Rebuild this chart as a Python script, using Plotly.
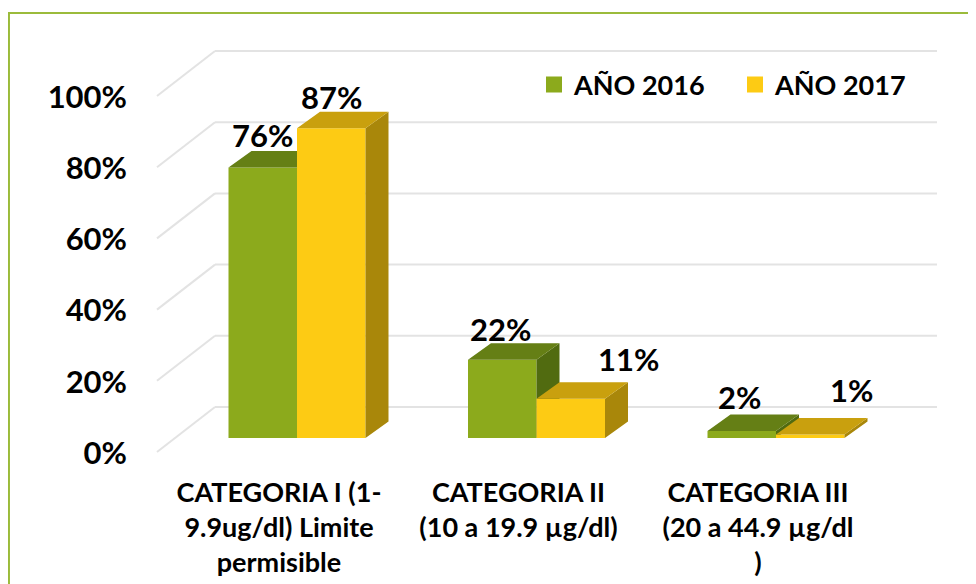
import plotly.graph_objects as go

# ---------------- data ----------------
categories = [
    "CATEGORIA I (1-<br>9.9ug/dl) Limite<br>permisible",
    "CATEGORIA II<br>(10 a 19.9 µg/dl)",
    "CATEGORIA III<br>(20 a 44.9 µg/dl<br>)",
]
series_names = ["AÑO 2016", "AÑO 2017"]
values_2016 = [76, 22, 2]
values_2017 = [87, 11, 1]
y_ticks = [0, 20, 40, 60, 80, 100]
y_tick_labels = ["0%", "20%", "40%", "60%", "80%", "100%"]

# ---------------- style / geometry ----------------
W, H = 976, 584
OFF = 8                       # default page body margin in the browser
WF, HF = W - OFF, H - OFF     # figure size
X0_PX, X_STEP = 297.0, 239.5  # ref pixel of category 0 (front centre), px per category
Y0_PX, Y_SCALE = 438.0, 3.56  # ref pixel of 0 % on bar front plane, px per %

def px_x(px):  # reference pixel -> x data
    return (px - X0_PX) / X_STEP

def dx_px(d):
    return d / X_STEP

def dy_px(d):
    return d / Y_SCALE

def paper_x(px):
    return (px - OFF) / WF

def paper_y(py):
    return 1 - (py - OFF) / HF

BAR_W = dx_px(68.5)
DEPTH_X, DEPTH_Y = dx_px(23), dy_px(16.5)
WALL_BACK_Y = dy_px(31)       # back wall offset above bar front plane
FRONT_Y = -dy_px(15)          # front floor edge offset
SIDE_X0, WALL_X0, WALL_X1 = px_x(157), px_x(215), px_x(937)
LABEL_SHIFT_X = -dx_px(18)

FONT = "Lato, 'Open Sans', sans-serif"
GRID = "#E3E3E3"
COLORS = {
    "AÑO 2016": dict(front="#8CAA1C", top="#657F15", side="#516B10"),
    "AÑO 2017": dict(front="#FDCB14", top="#C9A00E", side="#A9870A"),
}
# label offsets (px) relative to bar front-top centre
LABEL_OFF = {
    "AÑO 2016": [(0, 30), (-2, 29), (-2, 32)],
    "AÑO 2017": [(0, 29), (58, 38), (41, 42)],
}

xr = [px_x(OFF), px_x(W)]
yr = [(Y0_PX - H) / Y_SCALE, (Y0_PX - OFF) / Y_SCALE]

fig = go.Figure()

def add_series(name, vals, offset, xa, ya):
    c = COLORS[name]
    xs = list(range(len(vals)))
    fig.add_trace(go.Bar(x=xs, y=vals, width=BAR_W, offset=offset, base=0,
                         marker=dict(color=c["front"], line=dict(width=0)),
                         showlegend=False, hoverinfo="skip", xaxis=xa, yaxis=ya))
    tx, ty, sx, sy = [], [], [], []
    for i, v in zip(xs, vals):
        x0 = i + offset
        x1 = x0 + BAR_W
        tx += [x0, x1, x1 + DEPTH_X, x0 + DEPTH_X, x0, None]
        ty += [v, v, v + DEPTH_Y, v + DEPTH_Y, v, None]
        sx += [x1, x1, x1 + DEPTH_X, x1 + DEPTH_X, x1, None]
        sy += [0, v, v + DEPTH_Y, DEPTH_Y, 0, None]
    fig.add_trace(go.Scatter(x=sx, y=sy, mode="lines", fill="toself", fillcolor=c["side"],
                             line=dict(width=0), showlegend=False, hoverinfo="skip",
                             xaxis=xa, yaxis=ya))
    fig.add_trace(go.Scatter(x=tx, y=ty, mode="lines", fill="toself", fillcolor=c["top"],
                             line=dict(width=0), showlegend=False, hoverinfo="skip",
                             xaxis=xa, yaxis=ya))
    # legend entry
    fig.add_trace(go.Scatter(x=[None], y=[None], mode="markers", name=name,
                             marker=dict(symbol="square", size=17, color=c["front"]),
                             xaxis=xa, yaxis=ya))
    for i, v in zip(xs, vals):
        ox, oy = LABEL_OFF[name][i]
        fig.add_annotation(x=i + offset + BAR_W / 2, y=v, xref="x", yref="y",
                           text=f"{v}%", showarrow=False, xshift=ox, yshift=oy + 2,
                           font=dict(family=FONT, size=31, color="black", weight="bold"),
                           xanchor="center", yanchor="middle")

add_series(series_names[0], values_2016, -BAR_W, "x", "y")
add_series(series_names[1], values_2017, 0.0, "x2", "y2")

# gridlines (back wall + side wall)
for v in y_ticks:
    fig.add_shape(type="line", xref="x", yref="y", layer="below",
                  x0=WALL_X0, x1=WALL_X1, y0=v + WALL_BACK_Y, y1=v + WALL_BACK_Y,
                  line=dict(color=GRID, width=2))
    fig.add_shape(type="line", xref="x", yref="y", layer="below",
                  x0=SIDE_X0, x1=WALL_X0, y0=v - dy_px(14), y1=v + WALL_BACK_Y,
                  line=dict(color=GRID, width=2))

# outer green frame
fig.add_shape(type="rect", xref="paper", yref="paper",
              x0=paper_x(8) + 0.001, x1=1.02, y0=-0.02, y1=paper_y(13),
              line=dict(color="#9BBB3B", width=2), fillcolor="rgba(0,0,0,0)")

fig.update_layout(
    width=WF, height=HF, margin=dict(l=0, r=0, t=0, b=0),
    paper_bgcolor="white", plot_bgcolor="white",
    barmode="overlay",
    font=dict(family=FONT, color="black"),
    showlegend=True,
    legend=dict(orientation="h", x=paper_x(534), xanchor="left", y=paper_y(85), yanchor="middle",
                bgcolor="rgba(0,0,0,0)", entrywidth=156, entrywidthmode="pixels",
                font=dict(family=FONT, size=27, color="black", weight="bold"),
                traceorder="normal"),
    xaxis=dict(range=xr, domain=[0, 1], anchor="free", position=paper_y(474),
               tickvals=[i + LABEL_SHIFT_X for i in range(len(categories))],
               ticktext=categories, showgrid=False, zeroline=False, showline=False,
               ticks="", tickfont=dict(family=FONT, size=27, color="black", weight="bold")),
    yaxis=dict(range=yr, domain=[0, 1], anchor="free", position=paper_x(127),
               tickvals=[v + FRONT_Y for v in y_ticks], ticktext=y_tick_labels,
               showgrid=False, zeroline=False, showline=False, ticks="",
               tickfont=dict(family=FONT, size=31, color="black", weight="bold")),
    xaxis2=dict(range=xr, overlaying="x", visible=False),
    yaxis2=dict(range=yr, overlaying="y", visible=False, anchor="x2"),
)

fig.write_html("out.html")
